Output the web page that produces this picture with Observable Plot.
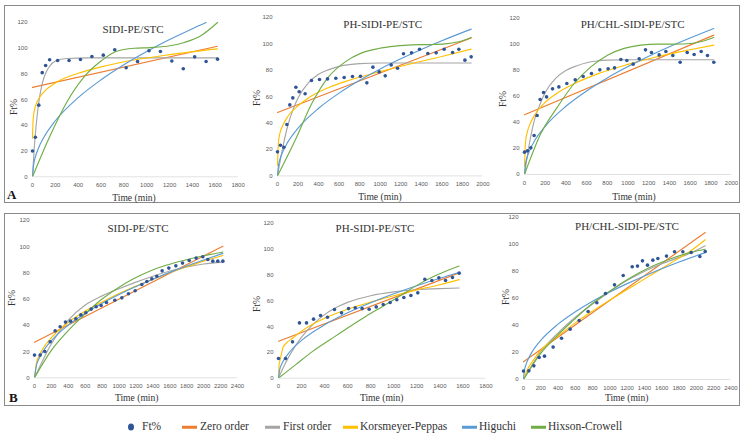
<!DOCTYPE html>
<html><head><meta charset="utf-8">
<script src="https://cdn.jsdelivr.net/npm/d3@7"></script>
<script src="https://cdn.jsdelivr.net/npm/@observablehq/plot@0.6"></script>
<style>
body{margin:0;background:#fff;}
#root{position:relative;width:744px;height:440px;overflow:hidden;font-family:"Liberation Serif","Times New Roman",serif;color:#333;}
.frame{position:absolute;border:1.5px solid #8a8a8a;box-sizing:border-box;}
.panel{position:absolute;}
.lbl{position:absolute;white-space:nowrap;line-height:1;transform:translate(-50%,-50%);font-weight:400;}
.ttl{font-size:11px;}
.xl{font-size:9.6px;}
.yl{font-size:9.6px;transform:translate(-50%,-50%) rotate(-90deg);}
.tag{position:absolute;font-weight:bold;font-size:13px;line-height:1;color:#111;}
.leg{position:absolute;font-size:11.5px;line-height:1;white-space:nowrap;transform:translateY(-50%);font-weight:400;}
.sw{position:absolute;height:2.5px;width:15px;transform:translateY(-50%);}
.dotsw{position:absolute;width:6px;height:7px;border-radius:50%;transform:translate(-50%,-50%);}
</style></head><body><div id="root"></div>
<script>
// ---------- DATA ----------
// Panel A1: SIDI-PE/STC
const a1_t  = [0,25,55,85,115,150,220,320,420,520,620,720,820,920,1020,1120,1220,1320,1420,1520,1620];
const a1_ft = [20,30.8,55.7,81,86.6,91,90.5,90.5,91.2,93.6,94.6,98.8,84.8,89.7,98,97.5,90,84,93.3,89.7,91.5];
const a1_zero = [[0,69.5],[1620,101.5]];
const a1_first = [[0,0],[15,22],[30,38],[45,51],[60,61],[90,74],[120,81.5],[150,86],[200,90],[300,92],[500,92.5],[1620,92.5]];
const a1_kp = [[0,30],[5,44],[15,51],[30,56],[60,61.5],[100,66],[200,73],[400,80.5],[600,85.5],[900,91],[1200,95],[1620,99.5]];
const a1_hig = [[0,0],[10,9.7],[25,15.4],[50,21.8],[100,30.8],[200,43.6],[400,61.6],[600,75.4],[800,87.1],[1000,97.4],[1200,106.7],[1400,115.2],[1520,120]];
const a1_hix = [[0,0],[80,17],[160,33],[300,58],[450,77.5],[600,90],[730,97.5],[890,100],[1030,100.5],[1180,101.5],[1330,104.5],[1470,109.5],[1620,120]];

// Panel A2: PH-SIDI-PE/STC
const a2_t  = [0,29,62,91,120,149,179,211,269,331,409,487,568,649,730,808,870,929,990,1049,1107,1169,1227,1305,1383,1464,1545,1623,1705,1766,1825,1886];
const a2_ft = [18.2,23.2,21.7,38.9,53.8,59.1,67.2,63.7,62.2,72.3,73,73.5,74,74.5,75.3,75.5,70.5,82.4,78.8,75.8,84.1,81.6,92.5,93.2,96,92.7,93.2,96,93.5,96,87.7,90.2];
const a2_zero = [[0,48],[1886,104.5]];
const a2_first = [[0,0],[50,21],[100,38],[150,50],[200,59],[300,70.5],[400,77],[500,80.5],[600,83],[700,84.3],[800,85],[1000,85.5],[1886,85.5]];
const a2_kp = [[0,8],[10,26],[26,33],[50,38],[100,45],[200,53],[300,59],[500,67],[700,72.5],[1000,79],[1300,85],[1600,90.5],[1886,96]];
const a2_hig = [[0,0],[10,8.1],[25,12.8],[50,18.1],[100,25.6],[200,36.2],[400,51.2],[600,62.7],[800,72.4],[1000,81],[1200,88.7],[1400,95.8],[1600,102.4],[1886,111.2]];
const a2_hix = [[0,0],[172,27],[334,54.8],[497,75],[659,86.4],[821,93.2],[984,96.5],[1146,98.3],[1308,99.3],[1471,99.5],[1633,100],[1763,101.6],[1886,104.9]];

// Panel A3: PH/CHL-SIDI-PE/STC
const a3_t  = [0,29,61,93,122,151,184,213,271,332,409,490,567,647,728,808,870,931,989,1050,1108,1169,1227,1301,1366,1433,1504,1572,1639,1707,1768,1829];
const a3_ft = [17.2,18.2,20.5,30,45.4,57.7,63.1,59.7,65.9,67.4,70,72.8,75.4,77.7,80.5,81.3,82,88.5,87.7,84.9,89,95.9,93.8,92,94.6,91.5,86.4,93.8,92.3,94.6,91.5,86.4];
const a3_zero = [[0,45.9],[1829,107.2]];
const a3_first = [[0,0],[50,25],[100,43],[150,54],[200,63],[300,74],[400,80],[500,83.5],[600,86],[700,87.3],[800,88],[1000,88.3],[1829,88.3]];
const a3_kp = [[0,6],[10,25],[30,33.5],[60,40],[100,46],[200,55.5],[300,61.8],[500,70.6],[700,77.2],[1000,84.7],[1300,91],[1600,96],[1829,99.5]];
const a3_hig = [[0,0],[10,8.3],[25,13.1],[50,18.6],[100,26.3],[200,37.1],[400,52.5],[600,64.3],[800,74.3],[1000,83],[1200,91],[1400,98.3],[1600,105],[1829,112.3]];
const a3_hix = [[0,0],[158,31.5],[319,52],[480,70],[641,82.8],[802,91.8],[963,97],[1124,99.5],[1285,100.3],[1446,100.3],[1607,100.8],[1720,102.5],[1829,105.4]];

// Panel B1: SIDI-PE/STC
const b1_t  = [0,67,122,185,244,303,366,426,489,548,607,670,729,788,851,950,1033,1111,1190,1269,1328,1387,1446,1509,1588,1671,1750,1829,1911,1990,2049,2108,2167,2227];
const b1_ft = [17.3,17.3,20.1,27.5,35.8,38.9,42.5,43.2,45,48,49.6,52.4,54.2,55.2,57.5,59.2,61,64.1,66.4,71.2,73.5,75.5,77.5,81.6,83.7,85.4,87.5,89.5,91.3,92.3,90.3,89,89,89];
const b1_zero = [[0,27.2],[2227,100.4]];
const b1_first = [[0,0],[200,26],[400,44],[600,55.5],[800,62.5],[1000,68],[1200,73],[1400,77.5],[1600,81.5],[1800,84.5],[2000,86.8],[2227,88.2]];
const b1_kp = [[0,0],[25,11.8],[50,16.2],[100,22.3],[200,30.6],[400,42.2],[600,50.9],[800,57.9],[1000,64.3],[1200,70],[1400,75.2],[1600,80.1],[1800,84.7],[2000,89],[2227,93.3]];
const b1_hig = [[0,0],[25,10],[50,14.2],[100,20.1],[200,28.4],[400,40.2],[600,49.2],[800,56.9],[1000,63.6],[1200,69.6],[1400,75.2],[1600,80.4],[1800,85.3],[2000,89.9],[2227,94.9]];
const b1_hix = [[0,0],[185,19.6],[382,34.8],[579,47.5],[776,59],[973,68],[1170,75.5],[1367,81.5],[1564,86],[1761,89.5],[1959,92.5],[2227,96]];

// Panel B2: PH-SIDI-PE/STC
const b2_t  = [0,61,122,182,243,304,365,425,486,547,608,666,726,787,848,909,969,1027,1088,1149,1209,1270,1331,1392,1450,1510,1568];
const b2_ft = [15.3,15.3,28.2,42.9,42.9,45.8,48.6,47.3,53.3,50.7,54,54.6,54,53.5,55.3,57.2,58.7,60.8,62.6,64.1,66.2,76.8,75.8,77.8,75.8,78.1,81.5];
const b2_zero = [[0,28.7],[1568,81.7]];
const b2_first = [[0,0],[50,9.8],[100,18.3],[200,31.8],[300,41.8],[400,49.3],[500,54.8],[600,58.8],[800,64],[1000,67],[1200,68.6],[1400,69.5],[1568,70]];
const b2_kp = [[0,0],[5,10],[15,14.5],[40,24],[60,26.5],[122,31],[200,36.5],[300,42],[400,46.5],[600,53.5],[800,59],[1000,64],[1200,68.5],[1400,72.5],[1568,76.5]];
const b2_hig = [[0,0],[10,6.5],[25,10.4],[50,14.6],[100,20.7],[200,29.3],[400,41.4],[600,50.7],[800,58.5],[1000,65.5],[1200,71.7],[1400,77.5],[1568,82]];
const b2_hix = [[0,0],[150,10.5],[300,21],[450,30],[600,39],[750,47.5],[900,55.5],[1050,63.5],[1200,72],[1350,79],[1568,87]];

// Panel B3: PH/CHL-SIDI-PE/STC
const b3_t  = [0,62,120,181,243,343,440,540,644,748,849,949,1053,1154,1258,1319,1377,1435,1497,1555,1655,1748,1844,1941,2041,2103];
const b3_ft = [6.2,6.4,10.1,16.3,17.3,24,30.6,37.3,43.7,50.4,56.8,63.7,70.1,77,83.5,84,87.9,84.7,88.4,89.6,91.4,94.6,94.6,94.1,91.1,94.8];
const b3_zero = [[0,13.1],[2103,108.9]];
const b3_first = [[0,0],[193,20],[386,33.6],[579,45],[772,54.6],[965,63.5],[1157,71.9],[1350,78.5],[1543,84.2],[1736,89],[1929,93.5],[2103,99]];
const b3_kp = [[0,0],[50,8],[100,13],[193,21.2],[386,31.5],[579,41],[772,49.6],[965,57.5],[1157,65],[1350,72.5],[1543,80],[1736,87.5],[1929,95],[2103,103.5]];
const b3_hig = [[0,0],[10,6.5],[25,10.3],[62,16.1],[100,20.5],[200,29],[400,41],[600,50.2],[800,58],[1000,64.8],[1200,71],[1400,76.7],[1600,82],[1800,87],[2103,94]];
const b3_hix = [[0,0],[193,18.8],[386,32.3],[579,44],[772,55],[965,64],[1157,72.3],[1350,79.5],[1543,85.4],[1736,90.2],[1929,94],[2103,96.5]];

const panelTitles = ["SIDI-PE/STC","PH-SIDI-PE/STC","PH/CHL-SIDI-PE/STC","SIDI-PE/STC","PH-SIDI-PE/STC","PH/CHL-SIDI-PE/STC"];
const xMaxes = [1800,2000,2000,2400,1800,2400];
const yTicks = [0,20,40,60,80,100,120];
const seriesNames = ["Ft%","Zero order","First order","Korsmeyer-Peppas","Higuchi","Hixson-Crowell"];
const xLabel = "Time (min)";
const yLabel = "Ft%";

// ---------- STYLE / LAYOUT ----------
const colors = {pts:"#2F5597", zero:"#ED7D31", first:"#A5A5A5", kp:"#FFC000", hig:"#5B9BD5", hix:"#70AD47"};
const layout = [
  {x0:31.7, x1:237.3, y0:176,   y1:21.7,  tt:[133,29],   xl:[134,198],   yl:[14,107]},
  {x0:277.3,x1:482.7, y0:175.7, y1:17.3,  tt:[382.7,24], xl:[380,197],   yl:[256.5,98]},
  {x0:523.7,x1:730.7, y0:174.3, y1:18.3,  tt:[632.7,24], xl:[634,196.7], yl:[503,99]},
  {x0:34.3, x1:237.3, y0:377.3, y1:220,   tt:[138,228.3],xl:[136.7,397.7],yl:[11.5,298]},
  {x0:278.3,x1:485.7, y0:378,   y1:223.3, tt:[375,227.7],xl:[381.7,398.3],yl:[256.5,304]},
  {x0:523.3,x1:730.7, y0:378.7, y1:216.7, tt:[627,225.7],xl:[626.7,398.3],yl:[505.5,297]}
];

const panels = [
  {t:a1_t, ft:a1_ft, zero:a1_zero, first:a1_first, kp:a1_kp, hig:a1_hig, hix:a1_hix},
  {t:a2_t, ft:a2_ft, zero:a2_zero, first:a2_first, kp:a2_kp, hig:a2_hig, hix:a2_hix},
  {t:a3_t, ft:a3_ft, zero:a3_zero, first:a3_first, kp:a3_kp, hig:a3_hig, hix:a3_hix},
  {t:b1_t, ft:b1_ft, zero:b1_zero, first:b1_first, kp:b1_kp, hig:b1_hig, hix:b1_hix},
  {t:b2_t, ft:b2_ft, zero:b2_zero, first:b2_first, kp:b2_kp, hig:b2_hig, hix:b2_hix},
  {t:b3_t, ft:b3_ft, zero:b3_zero, first:b3_first, kp:b3_kp, hig:b3_hig, hix:b3_hix}
];

const root = document.getElementById("root");
function add(cls, html, style){
  const d = document.createElement("div");
  d.className = cls; if (html!=null) d.textContent = html;
  Object.assign(d.style, style||{});
  root.appendChild(d); return d;
}

// frames
add("frame", null, {left:"4px", top:"5px", width:"736px", height:"198px"});
add("frame", null, {left:"4px", top:"213px", width:"736px", height:"193px"});
add("tag", "A", {left:"7px", top:"188px"});
add("tag", "B", {left:"9px", top:"391px"});

const ml = 30, mr = 12, mt = 10, mb = 20;
const fmt = d => String(d);
panels.forEach((p, i) => {
  const L = layout[i];
  const w = (L.x1 - L.x0) + ml + mr;
  const h = (L.y0 - L.y1) + mt + mb;
  const xmax = xMaxes[i];
  const xTicks = d3.range(0, xmax + 1, 200);
  const pts = p.t.map((t, j) => ({t, ft: p.ft[j]}));
  const line = (data, c) => Plot.line(data, {x: d => d[0], y: d => d[1], stroke: c, strokeWidth: 1.15, curve: "monotone-x", clip: true});
  const chart = Plot.plot({
    width: w, height: h,
    marginLeft: ml, marginRight: mr, marginTop: mt, marginBottom: mb,
    style: {fontFamily: "'Liberation Sans', Arial, sans-serif", fontSize: "6px", color: "#595959", background: "transparent", overflow: "visible"},
    x: {domain: [0, xmax], ticks: xTicks, label: null},
    y: {domain: [0, 120], ticks: yTicks, label: null},
    marks: [
      Plot.ruleY([0], {stroke: "#d9d9d9", strokeWidth: 0.8}),
      Plot.axisX({ticks: xTicks, tickSize: 0, tickPadding: 6, fontSize: 6, tickFormat: fmt, label: null}),
      Plot.axisY({ticks: yTicks, tickSize: 0, tickPadding: 5, fontSize: 6, tickFormat: fmt, label: null}),
      line(p.zero, colors.zero),
      line(p.first, colors.first),
      line(p.kp, colors.kp),
      line(p.hig, colors.hig),
      line(p.hix, colors.hix),
      Plot.dot(pts, {x: "t", y: "ft", r: 1.8, fill: colors.pts, stroke: "none"})
    ]
  });
  chart.classList.add("panel");
  chart.style.left = (L.x0 - ml) + "px";
  chart.style.top = (L.y1 - mt) + "px";
  root.appendChild(chart);
  add("lbl ttl", panelTitles[i], {left: L.tt[0] + "px", top: L.tt[1] + "px"});
  add("lbl xl", xLabel, {left: L.xl[0] + "px", top: L.xl[1] + "px"});
  add("lbl yl", yLabel, {left: L.yl[0] + "px", top: L.yl[1] + "px"});
});

// legend
const legY = 427;
const legItems = [
  {name: seriesNames[0], c: colors.pts, sw: 131, tx: 142, dot: true},
  {name: seriesNames[1], c: colors.zero, sw: 182, tx: 200},
  {name: seriesNames[2], c: colors.first, sw: 265, tx: 283},
  {name: seriesNames[3], c: colors.kp, sw: 343, tx: 360},
  {name: seriesNames[4], c: colors.hig, sw: 462, tx: 479},
  {name: seriesNames[5], c: colors.hix, sw: 531, tx: 548}
];
legItems.forEach(it => {
  if (it.dot) add("dotsw", null, {left: it.sw + "px", top: legY + "px", background: it.c});
  else add("sw", null, {left: it.sw + "px", top: legY + "px", background: it.c});
  add("leg", it.name, {left: it.tx + "px", top: legY + "px"});
});
</script></body></html>
